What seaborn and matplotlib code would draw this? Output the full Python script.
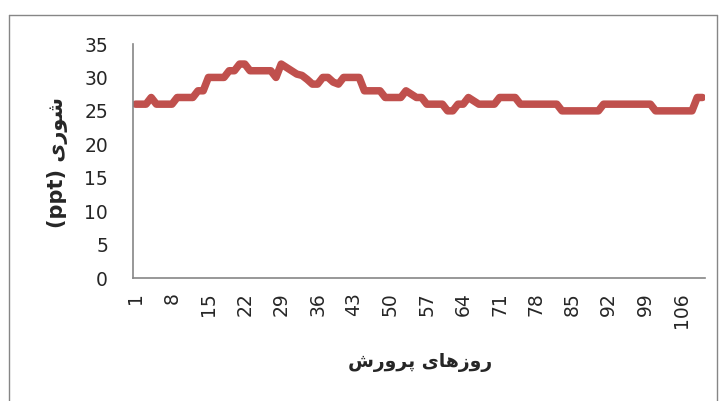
import matplotlib
matplotlib.use("Agg")
import matplotlib.pyplot as plt
import seaborn as sns
import pandas as pd
import numpy as np
from matplotlib.lines import Line2D

# ---- data ----
days = list(range(1, 111))
salinity = (
    [26, 26, 26, 27, 26, 26, 26, 26, 27, 27,          # 1-10
     27, 27, 28, 28, 30, 30, 30, 30, 31, 31,          # 11-20
     32, 32, 31, 31, 31, 31, 31, 30, 32, 31.5,        # 21-30
     31, 30.5, 30.3, 29.7, 29, 29, 30, 30, 29.3, 29,  # 31-40
     30, 30, 30, 30, 28, 28, 28, 28, 27, 27,          # 41-50
     27, 27, 28, 27.5, 27, 27, 26, 26, 26, 26,        # 51-60
     25, 25, 26, 26, 27, 26.5, 26, 26, 26, 26,        # 61-70
     27, 27, 27, 27, 26, 26, 26, 26, 26, 26,          # 71-80
     26, 26, 25, 25, 25, 25, 25, 25, 25, 25,          # 81-90
     26, 26, 26, 26, 26, 26, 26, 26, 26, 26,          # 91-100
     25, 25, 25, 25, 25, 25, 25, 25, 27, 27]          # 101-110
)
assert len(salinity) == len(days)
x_tick_labels = [str(d) for d in range(1, 107, 7)]
y_ticks = [0, 5, 10, 15, 20, 25, 30, 35]

# Persian labels (pre-shaped presentation forms, visual order)
x_title = "\uFEB5\uFEAD\uFEED\uFEAE\uFB58 \uFBFC\uFE8E\uFEEB\uFEAF\uFEED\uFEAD"   # روزهای پرورش
y_title = "(ppt) \uFBFC\uFEAD\uFEEE\uFEB7"                                      # شوری (ppt)

sns.set_style("white")
plt.rcParams['font.family'] = ['DejaVu Sans']

W, H = 722, 401
fig = plt.figure(figsize=(W / 100, H / 100), dpi=100)
ax = fig.add_axes([133 / W, 1 - 278 / H, 572 / W, 234 / H])

df = pd.DataFrame({"day": days, "salinity": salinity})
sns.lineplot(data=df, x="day", y="salinity", ax=ax, color="#C0504D",
             linewidth=5.4, solid_capstyle="round", solid_joinstyle="round")

gray = "#868686"
ax.set_xlim(0.5, 110.5)
ax.set_ylim(0, 35)
ax.set_yticks(y_ticks)
ax.set_yticklabels([str(v) for v in y_ticks], fontsize=13.5)
ax.set_xticks([int(s) for s in x_tick_labels])
ax.set_xticklabels(x_tick_labels, rotation=90, fontsize=13.5)
ax.set_xticks(np.arange(0.5, 111, 1), minor=True)
ax.tick_params(axis="x", which="major", length=0, pad=10)
ax.tick_params(axis="x", which="minor", length=5.5, width=0.8, color=gray, direction="out")
ax.tick_params(axis="y", which="major", length=5, width=1, color=gray, direction="out", pad=13)

for s in ["top", "right"]:
    ax.spines[s].set_visible(False)
for s in ["left", "bottom"]:
    ax.spines[s].set_color(gray)
    ax.spines[s].set_linewidth(1.2)

ax.set_xlabel("")
ax.set_ylabel("")
fig.text(420 / W, 1 - 363 / H, x_title, ha="center", va="center",
         fontsize=13.5, fontweight="bold")
fig.text(57 / W, 1 - 163 / H, y_title, ha="center", va="center",
         rotation=90, fontsize=15, fontweight="bold")

# outer chart border
bx0, bx1, by0 = 8.5 / W, 716.5 / W, 1 - 14.5 / H
for xs, ys in [([bx0, bx1], [by0, by0]), ([bx0, bx0], [by0, -0.1]), ([bx1, bx1], [by0, -0.1])]:
    fig.add_artist(Line2D(xs, ys, transform=fig.transFigure, color=gray, lw=1))

fig.savefig("out.png", dpi=100)
